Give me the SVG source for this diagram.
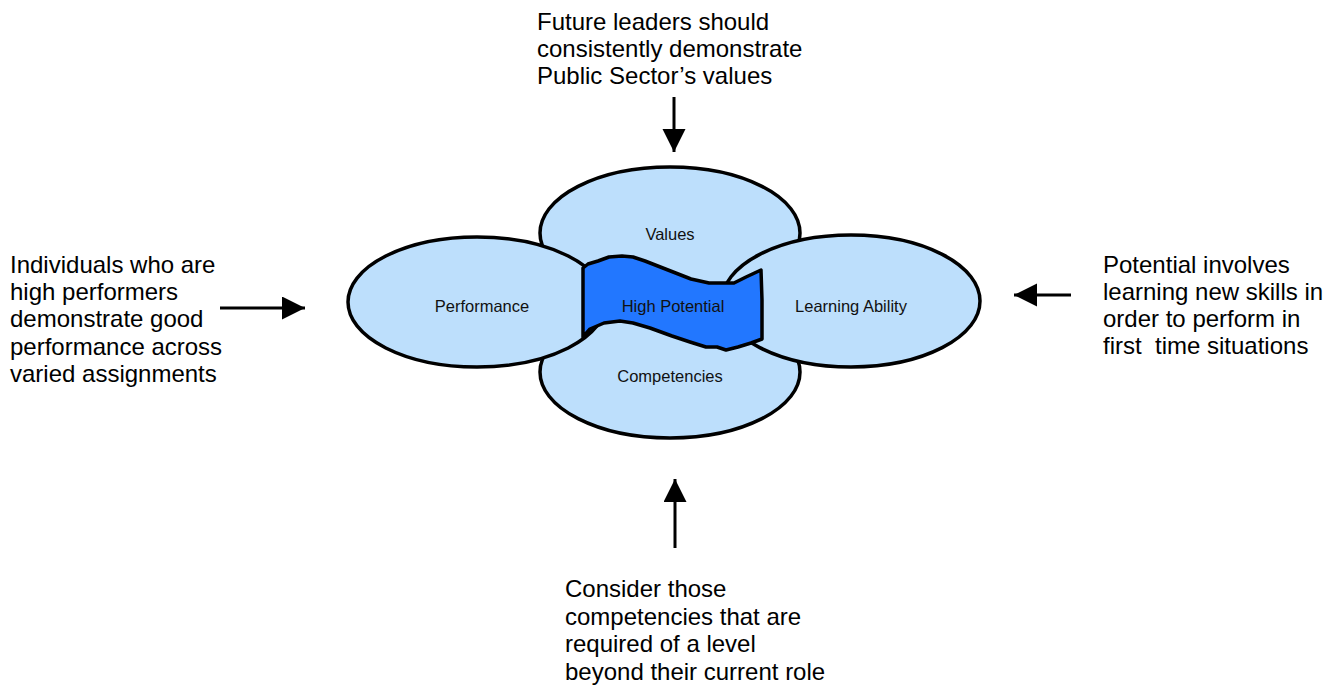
<svg xmlns="http://www.w3.org/2000/svg" width="1332" height="687" viewBox="0 0 1332 687">
<style>
.bg{fill:#ffffff}
.ell{fill:#BDDFFC;stroke:#000;stroke-width:3.5}
.ban{fill:#2277FF;stroke:#000;stroke-width:3.5;stroke-linejoin:round}
.lbl{font-family:"Liberation Sans",Arial,sans-serif;font-size:16.5px;fill:#111;text-anchor:middle}
.side{font-family:"Liberation Sans",Arial,sans-serif;font-size:24px;fill:#000;white-space:pre}
.arr{stroke:#000;stroke-width:3;fill:none;marker-end:url(#ah)}
</style>
<defs>
<marker id="ah" markerUnits="userSpaceOnUse" markerWidth="24" markerHeight="24" refX="23" refY="11.5" orient="auto">
<path d="M0,0 L23,11.5 L0,23 Z" fill="#000"/>
</marker>
</defs>
<rect class="bg" x="0" y="0" width="1332" height="687"/>
<g id="values"><ellipse class="ell" cx="670" cy="233" rx="130" ry="66"/></g>
<g id="competencies"><ellipse class="ell" cx="670" cy="372" rx="130" ry="66"/></g>
<g id="performance"><ellipse class="ell" cx="477" cy="302" rx="129" ry="65"/></g>
<g id="learning"><ellipse class="ell" cx="851" cy="301" rx="129" ry="66"/></g>
<g id="high-potential"><path class="ban" d="M583,268 L588,264 L598,261 L609,257 L622,256 L633,257 L645,261 L668,270 L691,279 L709,283 L734,283 L746,277 L761,270 L762,300 L762,339 L751,343 L738,347 L726,350 L717,347 L706,347 L690,342 L672,336 L650,328 L633,323 L620,321 L604,323 L590,329 L583,337 Z"/></g>
<g id="labels">
<text class="lbl" x="670" y="240">Values</text>
<text class="lbl" x="482" y="312">Performance</text>
<text class="lbl" x="673" y="312">High Potential</text>
<text class="lbl" x="851" y="312">Learning Ability</text>
<text class="lbl" x="670" y="382">Competencies</text>
</g>
<g id="note-top">
<text class="side" x="537" y="30">Future leaders should</text>
<text class="side" x="537" y="57">consistently demonstrate</text>
<text class="side" x="537" y="84">Public Sector’s values</text>
</g>
<g id="note-left">
<text class="side" x="10" y="273">Individuals who are</text>
<text class="side" x="10" y="300">high performers</text>
<text class="side" x="10" y="327">demonstrate good</text>
<text class="side" x="10" y="355">performance across</text>
<text class="side" x="10" y="382">varied assignments</text>
</g>
<g id="note-right">
<text class="side" x="1103" y="273">Potential involves</text>
<text class="side" x="1103" y="300">learning new skills in</text>
<text class="side" x="1103" y="327">order to perform in</text>
<text class="side" x="1103" y="354">first  time situations</text>
</g>
<g id="note-bottom">
<text class="side" x="565" y="597">Consider those</text>
<text class="side" x="565" y="625">competencies that are</text>
<text class="side" x="565" y="652">required of a level</text>
<text class="side" x="565" y="680">beyond their current role</text>
</g>
<g id="connectors">
<line class="arr" x1="220" y1="308" x2="305" y2="308"/>
<line class="arr" x1="674" y1="97" x2="674" y2="152"/>
<line class="arr" x1="1071" y1="295" x2="1014" y2="295"/>
<line class="arr" x1="675" y1="548" x2="675" y2="479"/>
</g>
</svg>
